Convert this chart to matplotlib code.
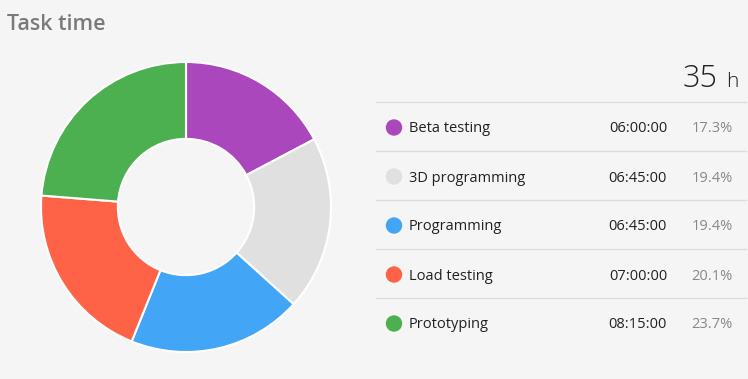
import matplotlib.pyplot as plt
from matplotlib.patches import Ellipse

plt.rcParams['font.family'] = ['Open Sans', 'DejaVu Sans']

# data
tasks = ['Beta testing', '3D programming', 'Programming', 'Load testing', 'Prototyping']
hours = [6.0, 6.75, 6.75, 7.0, 8.25]
colors = ['#AB47BC', '#E0E0E0', '#42A5F5', '#FF6347', '#4CAF50']

W, H = 748, 379
bg = '#F5F5F5'
fig = plt.figure(figsize=(W / 100, H / 100), dpi=100, facecolor=bg)

# donut
cx, cy, r = 186, 207, 145
ax = fig.add_axes([(cx - r) / W, (H - cy - r) / H, 2 * r / W, 2 * r / H])
ax.pie(hours, colors=colors, startangle=90, counterclock=False,
       wedgeprops=dict(width=0.53, edgecolor='white', linewidth=1.5))
ax.set_xlim(-1, 1)
ax.set_ylim(-1, 1)
ax.set_aspect('equal')
ax.axis('off')

fig.text(7 / W, 1 - 24 / H, 'Task time', fontsize=15.5, color='#7A7A7A',
         va='center', ha='left', fontweight='semibold')

total = sum(hours)
fig.text(718 / W, 1 - 79 / H, f'{round(total)}', fontsize=22, color='#212121',
         ha='right', va='center', fontweight='light')
fig.text(738 / W, 1 - 82 / H, 'h', fontsize=15, color='#212121',
         ha='right', va='center', fontweight='light')

# table
x0, x1 = 376 / W, 746 / W
row_h = 49
top = 102
for i in range(len(tasks)):
    y = 1 - (top + i * row_h) / H
    fig.add_artist(plt.Line2D([x0, x1], [y, y], color='#DCDCDC', lw=1))
for i, (t, h, c) in enumerate(zip(tasks, hours, colors)):
    yc = 1 - (top + row_h / 2 + 1 + i * row_h) / H
    yt = yc - 1.5 / H
    fig.add_artist(Ellipse((394 / W, yc), 15 / W, 15 / H, color=c,
                           transform=fig.transFigure))
    hh = int(h)
    mm = int(round((h - hh) * 60))
    fig.text(409 / W, yt, t, fontsize=10.5, color='#212121', ha='left', va='center')
    fig.text(667 / W, yt, f'{hh:02d}:{mm:02d}:00', fontsize=10.5, color='#212121',
             ha='right', va='center')
    fig.text(733 / W, yt, f'{h / total * 100:.1f}%', fontsize=10.5, color='#888888',
             ha='right', va='center')

fig.savefig('out.png', dpi=100, facecolor=bg)
